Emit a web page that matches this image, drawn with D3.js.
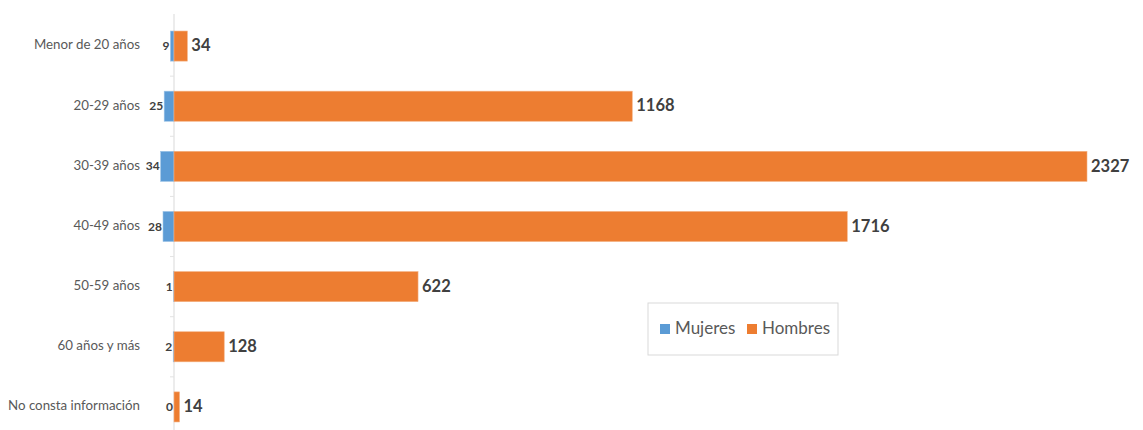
<!DOCTYPE html>
<html>
<head>
<meta charset="utf-8">
<script src="https://cdn.jsdelivr.net/npm/d3@7"></script>
<style>
  body { margin: 0; background: #fff; }
  text { font-family: Lato, "Open Sans", sans-serif; }
</style>
</head>
<body>
<div id="chart"></div>
<script>
// data
const categories = [
  "Menor de 20 años",
  "20-29 años",
  "30-39 años",
  "40-49 años",
  "50-59 años",
  "60 años y más",
  "No consta información",
];
const mujeres = [9, 25, 34, 28, 1, 2, 0];
const hombres = [34, 1168, 2327, 1716, 622, 128, 14];
const seriesNames = ["Mujeres", "Hombres"];
const colors = ["#5B9BD5", "#ED7D31"];

const width = 1143;
const height = 430;
const center = 174;

const svg = d3
  .select("#chart")
  .append("svg")
  .attr("width", width)
  .attr("height", height);

// scales
const xScale = d3
  .scaleLinear()
  .domain([0, d3.max(hombres)])
  .range([0, 1087 - center]);

const yScale = d3
  .scaleBand()
  .domain(categories)
  .range([16, 437])
  .paddingInner(0.5)
  .paddingOuter(0.25);

const rows = categories.map((c, i) => ({ cat: c, m: mujeres[i], h: hombres[i] }));

// axis line + ticks at category boundaries
const axis = svg.append("g").attr("transform", `translate(${center},0)`);
axis
  .append("line")
  .attr("y1", 14)
  .attr("y2", height)
  .attr("stroke", "#d9d9d9");
axis
  .selectAll("line.tick")
  .data(categories.slice(1))
  .join("line")
  .attr("class", "tick")
  .attr("x1", -4)
  .attr("x2", 0)
  .attr("y1", (d) => yScale(d) - yScale.step() * 0.25)
  .attr("y2", (d) => yScale(d) - yScale.step() * 0.25)
  .attr("stroke", "#e3e3e3");

// category labels
svg
  .append("g")
  .selectAll("text")
  .data(categories)
  .join("text")
  .attr("x", 140)
  .attr("y", (d) => yScale(d) + yScale.bandwidth() / 2)
  .attr("dominant-baseline", "middle")
  .attr("text-anchor", "end")
  .attr("fill", "#595959")
  .attr("font-size", 13.3)
  .text((d) => d);

// bars
const bars = svg.append("g").attr("transform", `translate(${center},0)`);

bars
  .selectAll("rect.mujeres")
  .data(rows)
  .join("rect")
  .attr("class", "mujeres")
  .attr("x", (d) => -xScale(d.m))
  .attr("y", (d) => yScale(d.cat))
  .attr("width", (d) => xScale(d.m))
  .attr("height", yScale.bandwidth())
  .attr("fill", colors[0])
  .attr("stroke", "#9cc3e6")
  .attr("stroke-width", (d) => (d.m > 0 ? 0.6 : 0));

bars
  .selectAll("rect.hombres")
  .data(rows)
  .join("rect")
  .attr("class", "hombres")
  .attr("x", 0)
  .attr("y", (d) => yScale(d.cat))
  .attr("width", (d) => xScale(d.h))
  .attr("height", yScale.bandwidth())
  .attr("fill", colors[1])
  .attr("stroke", "#f4b183")
  .attr("stroke-width", 0.6);

// value labels
bars
  .selectAll("text.mujeres")
  .data(rows)
  .join("text")
  .attr("class", "mujeres")
  .attr("x", (d) => -xScale(d.m) - 1)
  .attr("y", (d) => yScale(d.cat) + yScale.bandwidth() / 2 + 1)
  .attr("dominant-baseline", "middle")
  .attr("text-anchor", "end")
  .attr("font-size", 12)
  .attr("font-weight", "bold")
  .attr("fill", "#404040")
  .text((d) => d.m);

bars
  .selectAll("text.hombres")
  .data(rows)
  .join("text")
  .attr("class", "hombres")
  .attr("x", (d) => xScale(d.h) + 4)
  .attr("y", (d) => yScale(d.cat) + yScale.bandwidth() / 2 + 1)
  .attr("dominant-baseline", "middle")
  .attr("font-size", 16.5)
  .attr("font-weight", "bold")
  .attr("fill", "#404040")
  .text((d) => d.h);

// legend
const legend = svg.append("g").attr("transform", "translate(648,303)");
legend
  .append("rect")
  .attr("width", 190)
  .attr("height", 52)
  .attr("fill", "#fff")
  .attr("stroke", "#d9d9d9");

const item = legend
  .selectAll("g")
  .data(seriesNames)
  .join("g")
  .attr("transform", (d, i) => `translate(${12 + i * 87},26)`);
item
  .append("rect")
  .attr("y", -5)
  .attr("width", 10)
  .attr("height", 10)
  .attr("fill", (d, i) => colors[i]);
item
  .append("text")
  .attr("x", 15)
  .attr("y", 1)
  .attr("dominant-baseline", "middle")
  .attr("font-size", 17)
  .attr("fill", "#595959")
  .text((d) => d);
</script>
</body>
</html>
